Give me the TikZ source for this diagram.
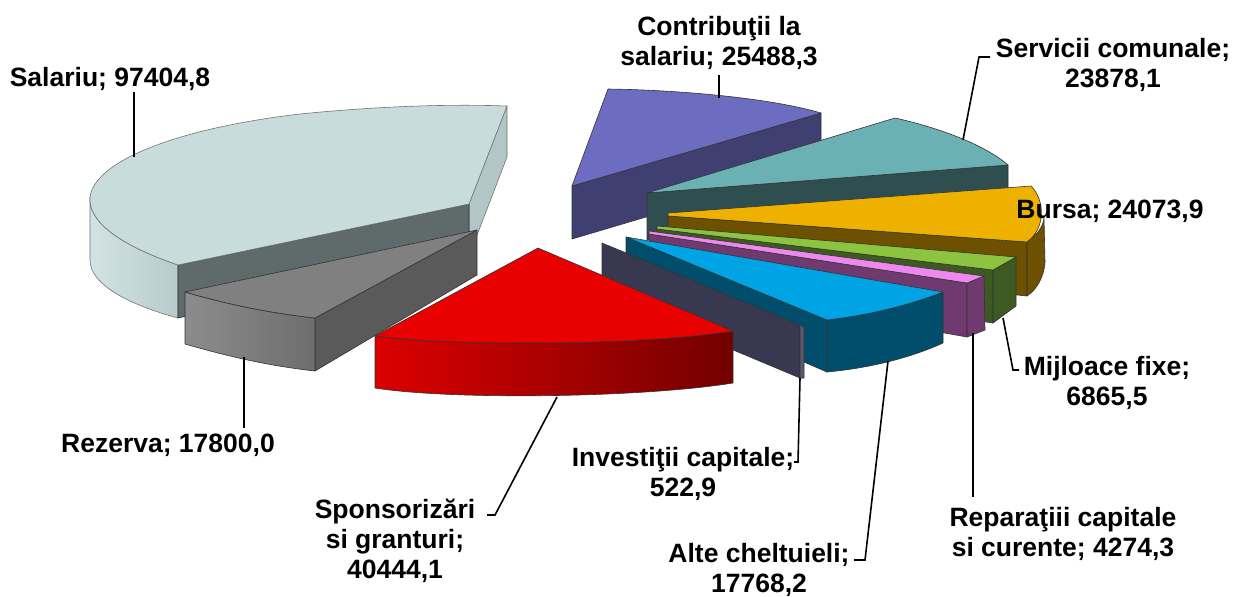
\documentclass[tikz,border=0pt]{standalone}
\usepackage{fontspec}
\setmainfont{Liberation Sans}
\definecolor{salTop}{HTML}{C9DCDC}
\definecolor{salSideL}{HTML}{D3E3E3}
\definecolor{salSideR}{HTML}{B7CBCB}
\definecolor{salRight}{HTML}{B3C6C6}
\definecolor{salFront}{HTML}{5F6A6A}
\definecolor{rezTop}{HTML}{808080}
\definecolor{rezFrontL}{HTML}{8C8C8C}
\definecolor{rezFrontR}{HTML}{6E6E6E}
\definecolor{rezSide}{HTML}{5A5A5A}
\definecolor{spoTop}{HTML}{E90000}
\definecolor{spoFrontL}{HTML}{DC0000}
\definecolor{spoFrontR}{HTML}{730000}
\definecolor{invSide}{HTML}{383850}
\definecolor{invEdge}{HTML}{5A5A6E}
\definecolor{altTop}{HTML}{00A3E3}
\definecolor{altSide}{HTML}{004E6C}
\definecolor{repTop}{HTML}{EE88EE}
\definecolor{repSide}{HTML}{703A70}
\definecolor{mijTop}{HTML}{8DC43F}
\definecolor{mijSide}{HTML}{3D5A22}
\definecolor{burTop}{HTML}{EEB100}
\definecolor{burSide}{HTML}{6E5100}
\definecolor{serTop}{HTML}{6BB1B4}
\definecolor{serSide}{HTML}{2F4E50}
\definecolor{conTop}{HTML}{6C6CC1}
\definecolor{conSide}{HTML}{3F3F71}
\tikzset{%
    face/.style={%
        draw=black!80,
        line width=0.3pt,
        line join=round
    },
    lbl/.style={%
        font=\fontsize{13.25}{15}\selectfont\bfseries,
        align=center,
        inner sep=0pt
    },
    leader/.style={%
        draw=black,
        line width=0.8pt
    }
}

\begin{document}
\begin{tikzpicture}[x=0.5pt,y=-0.5pt]
\useasboundingbox (0,0) rectangle (1235,596);

% Salariu
\filldraw[face, draw=black!55, fill=salRight] (507,106) -- (507,157) -- (469,256) -- (469,204) -- cycle;
\path[face, draw=black!55, left color=salSideL, right color=salSideR] (90,197) .. controls (88,222) and (120,245) .. (178,265) -- (178,318) .. controls (130,305) and (90,285) .. (90,260) -- cycle;
\filldraw[face, fill=salFront] (178,265) -- (469,204) -- (469,256) -- (178,318) -- cycle;
\filldraw[face, draw=black!55, fill=salTop] (469,204) -- (178,265) .. controls (120,245) and (88,222) .. (90,197) .. controls (95,160) and (180,128) .. (300,114) .. controls (380,106) and (450,104) .. (507,106) -- cycle;

% Contributii
\filldraw[face, fill=conSide] (572,186) -- (821,113) -- (821,165) -- (572,239) -- cycle;
\filldraw[face, fill=conTop] (572,186) -- (608,89) .. controls (680,90) and (770,98) .. (821,113) -- cycle;

% Servicii comunale
\filldraw[face, fill=serSide] (647,193) -- (1008,165) -- (1008,215) -- (647,240) -- cycle;
\filldraw[face, fill=serTop] (647,193) -- (895,118) .. controls (940,128) and (985,145) .. (1008,165) -- cycle;

% Bursa
\filldraw[face, fill=burSide] (668,216) -- (1027,242) -- (1027,296) -- (668,258) -- cycle;
\filldraw[face, fill=burSide] (1027,242) .. controls (1036,235) and (1043,228) .. (1044,218) -- (1045,262) .. controls (1044,278) and (1036,290) .. (1027,296) -- cycle;
\filldraw[face, fill=burTop] (668,213) -- (1031,186) .. controls (1045,200) and (1046,228) .. (1027,242) -- (668,216) -- cycle;

% Mijloace fixe
\filldraw[face, fill=mijSide] (657,229) -- (993,270) -- (993,323) -- (657,272) -- cycle;
\filldraw[face, fill=mijSide] (993,270) -- (1016,257) -- (1016,306) -- (993,323) -- cycle;
\filldraw[face, fill=mijTop] (657,226) -- (1016,257) -- (993,270) -- (657,229) -- cycle;

% Reparatii
\filldraw[face, fill=repSide] (649,234) -- (967,283) -- (967,337) -- (649,280) -- cycle;
\filldraw[face, fill=repSide] (967,283) -- (984,276) -- (985,330) -- (967,337) -- cycle;
\filldraw[face, fill=repTop] (649,231) -- (984,276) -- (967,283) -- (649,234) -- cycle;

% Alte cheltuieli
\filldraw[face, fill=altSide] (626,237) -- (827,320) -- (827,372) -- (626,285) -- cycle;
\filldraw[face, fill=altSide] (827,320) .. controls (870,315) and (910,305) .. (943,292) -- (943,343) .. controls (910,358) and (870,368) .. (827,372) -- cycle;
\filldraw[face, fill=altTop] (626,237) -- (943,292) .. controls (910,305) and (870,315) .. (827,320) -- cycle;

% Investitii
\filldraw[face, fill=invSide] (602,243) -- (800,325) -- (800,378) -- (602,295) -- cycle;
\filldraw[face, fill=invEdge] (800,325) -- (804,327) -- (804,378) -- (800,378) -- cycle;

% Rezerva
\filldraw[face, fill=rezSide] (315,318) -- (477,230) -- (477,275) -- (315,371) -- cycle;
\path[face, left color=rezFrontL, right color=rezFrontR] (185,292) .. controls (230,305) and (270,313) .. (315,318) -- (315,371) .. controls (270,366) and (230,357) .. (185,344) -- cycle;
\filldraw[face, fill=rezTop] (477,230) -- (185,292) .. controls (230,305) and (270,313) .. (315,318) -- cycle;

% Sponsorizari
\path[face, left color=spoFrontL, right color=spoFrontR] (375,336) .. controls (450,346) and (640,346) .. (733,331) -- (733,383) .. controls (640,398) and (450,400) .. (375,388) -- cycle;
\filldraw[face, fill=spoTop] (538,248) -- (375,336) .. controls (450,346) and (640,346) .. (733,331) -- cycle;

\node[lbl, anchor=base] (salLbl) at (110,86) {Salariu; 97404,8};
\node[lbl, anchor=base] (conLbl) at (719,65) {Contribuţii la\\salariu; 25488,3};
\node[lbl, anchor=base] (serLbl) at (1113,87) {Servicii comunale;\\23878,1};
\node[lbl, anchor=base] (burLbl) at (1110,218) {Bursa; 24073,9};
\node[lbl, anchor=base] (mijLbl) at (1107,405) {Mijloace fixe;\\6865,5};
\node[lbl, anchor=base] (repLbl) at (1063,556) {Reparaţiii capitale\\si curente; 4274,3};
\node[lbl, anchor=base] (altLbl) at (759,592) {Alte cheltuieli;\\17768,2};
\node[lbl, anchor=base] (invLbl) at (683,496) {Investiţii capitale;\\522,9};
\node[lbl, anchor=base] (spoLbl) at (395,578) {Sponsorizări\\si granturi;\\40444,1};
\node[lbl, anchor=base] (rezLbl) at (168,452) {Rezerva; 17800,0};

\coordinate (salPt) at (134,157);
\coordinate (conPt) at (719,98);
\coordinate (serPt) at (963,140);
\coordinate (mijPt) at (1003,318);
\coordinate (repPt) at (973,333);
\coordinate (altPt) at (888,361);
\coordinate (invPt) at (800,378);
\coordinate (spoPt) at (557,397);
\coordinate (rezPt) at (244,357);

\draw[leader] (salPt) -- ++(0,-65);
\draw[leader] (conPt) -- ++(0,-23);
\draw[leader] (serPt) -- ++(16,-83) -- ++(11,0);
\draw[leader] (mijPt) -- ++(10,52) -- ++(6,0);
\draw[leader] (repPt) -- ++(0,164);
\draw[leader] (altPt) -- ++(-23,199) -- ++(-11,0);
\draw[leader] (invPt) -- ++(-2,84) -- ++(-4,0);
\draw[leader] (spoPt) -- ++(-62,118) -- ++(-8,0);
\draw[leader] (rezPt) -- ++(0,71);
\end{tikzpicture}
\end{document}
